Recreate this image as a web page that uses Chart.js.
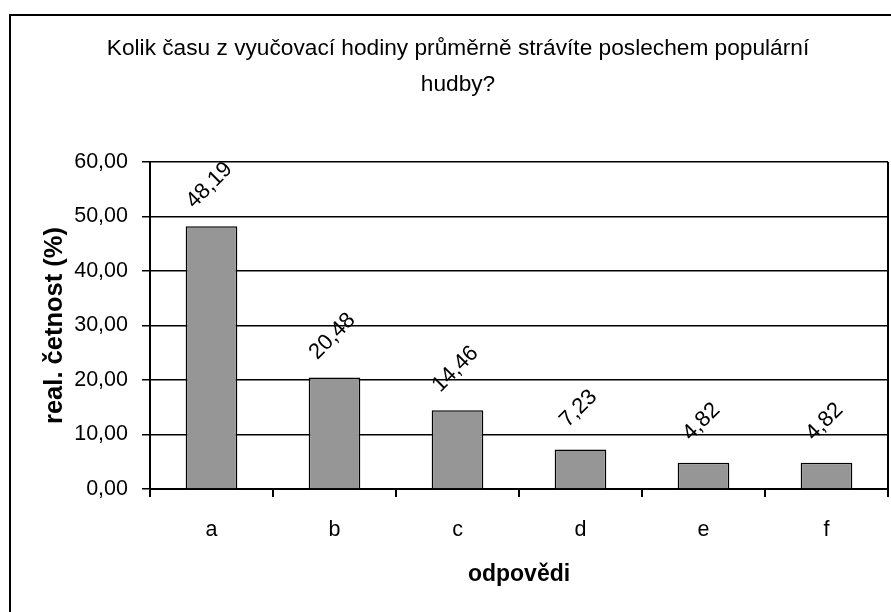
<!DOCTYPE html>
<html>
<head>
<meta charset="utf-8">
<script src="https://cdn.jsdelivr.net/npm/chart.js@4/dist/chart.umd.min.js"></script>
<style>
  body { margin: 0; background: #fff; }
  #wrap { position: relative; width: 891px; height: 612px; overflow: hidden; }
  #frame { position: absolute; left: 9px; top: 14px; width: 1000px; height: 800px;
           border-left: 2px solid #000; border-top: 2px solid #000; }
  canvas { position: absolute; left: 0; top: 0; }
</style>
</head>
<body>
<div id="wrap">
  <div id="frame"></div>
  <canvas id="chart" width="891" height="612"></canvas>
</div>
<script>
// data
const answers = ['a', 'b', 'c', 'd', 'e', 'f'];
const relFreq = [48.19, 20.48, 14.46, 7.23, 4.82, 4.82];
const titleLines = ['Kolik času z vyučovací hodiny průměrně strávíte poslechem populární', 'hudby?'];
const yTitle = 'real. četnost (%)';
const xTitle = 'odpovědi';

const FONT = '"Liberation Sans", Arial, sans-serif';

// czech decimal comma
function fmt(v) {
    return v.toFixed(2).replace('.', ',');
}

// values written above the bars, tilted
const barLabels = {
    id: 'barLabels',
    afterDatasetsDraw(chart) {
        const ctx = chart.ctx;
        const meta = chart.getDatasetMeta(0);
        ctx.save();
        ctx.font = '22px ' + FONT;
        ctx.fillStyle = '#000';
        ctx.textAlign = 'center';
        ctx.textBaseline = 'middle';
        meta.data.forEach((bar, i) => {
            ctx.save();
            ctx.translate(bar.x - 2, bar.y - 41);
            ctx.rotate(-Math.PI / 4);
            ctx.fillText(fmt(relFreq[i]), 0, 0);
            ctx.restore();
        });
        ctx.restore();
    }
};

// right edge of the plot box
const plotFrame = {
    id: 'plotFrame',
    afterDraw(chart) {
        const {ctx, chartArea} = chart;
        ctx.save();
        ctx.strokeStyle = '#000';
        ctx.lineWidth = 2;
        ctx.beginPath();
        ctx.moveTo(chartArea.right, chartArea.top);
        ctx.lineTo(chartArea.right, chartArea.bottom + 8);
        ctx.stroke();
        ctx.restore();
    }
};

new Chart(document.getElementById('chart'), {
    type: 'bar',
    data: {
        labels: answers,
        datasets: [{
            data: relFreq,
            backgroundColor: '#969696',
            borderColor: '#000',
            borderWidth: 1.5,
            barPercentage: 0.42,
            categoryPercentage: 1
        }]
    },
    options: {
        responsive: false,
        animation: false,
        // left padding pushes the title centre right, like the original sheet
        layout: { padding: { top: 0, right: 3, bottom: 0, left: 28 } },
        plugins: {
            legend: { display: false },
            tooltip: { enabled: false },
            title: {
                display: true,
                text: titleLines,
                color: '#000',
                font: { family: FONT, size: 22.7, weight: 'normal', lineHeight: 36 / 22.7 },
                padding: { top: 31, bottom: 59 }
            }
        },
        scales: {
            x: {
                afterFit: (scale) => { scale.height = 123; },
                grid: { drawOnChartArea: false, color: '#000', lineWidth: 2, tickLength: 8, offset: true },
                border: { color: '#000', width: 2 },
                ticks: { color: '#000', font: { family: FONT, size: 21.5 }, padding: 20 },
                title: {
                    display: true,
                    text: xTitle,
                    color: '#000',
                    font: { family: FONT, size: 23, weight: 'bold' },
                    padding: { top: 0, bottom: 24 }
                }
            },
            y: {
                min: 0,
                max: 60,
                afterFit: (scale) => { scale.width = 122; },
                grid: { color: '#000', lineWidth: 1.5, tickLength: 8 },
                border: { color: '#000', width: 2 },
                ticks: {
                    stepSize: 10,
                    color: '#000',
                    font: { family: FONT, size: 21.5 },
                    padding: 14,
                    callback: (v) => fmt(v)
                },
                title: {
                    display: true,
                    text: yTitle,
                    color: '#000',
                    font: { family: FONT, size: 25.5, weight: 'bold' },
                    padding: { top: 12, bottom: 0 }
                }
            }
        }
    },
    plugins: [barLabels, plotFrame]
});
</script>
</body>
</html>
